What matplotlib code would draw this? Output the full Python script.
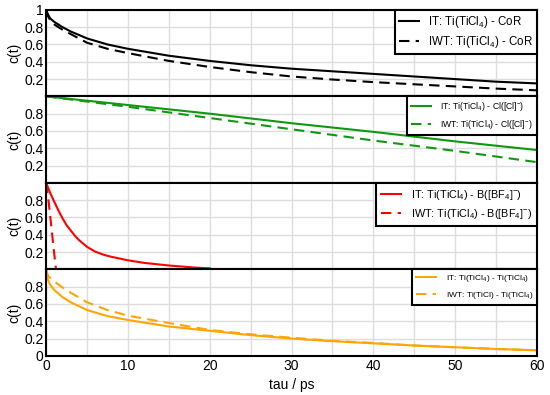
import matplotlib
matplotlib.use("Agg")
import matplotlib.pyplot as plt
from matplotlib.ticker import MultipleLocator

plt.rcParams["font.family"] = ["Liberation Sans", "DejaVu Sans"]
plt.rcParams["mathtext.default"] = "regular"

# time axes (ps)
t_long = [0, 0.2, 0.5, 1, 2, 3, 5, 7.5, 10, 15, 20, 25, 30, 35, 40, 45, 50, 55, 60]
t_lin = [0, 10, 20, 30, 40, 50, 60]
t_red = [0, 0.25, 0.5, 0.75, 1, 1.5, 2, 2.5, 3, 3.5, 4, 5, 6, 7, 8, 10, 12, 15, 18, 20]
t_red_iwt = [0, 0.3, 0.6, 0.9, 1.2]

# Ti(TiCl4) - CoR
cor_it = [1, 0.95, 0.9, 0.86, 0.8, 0.75, 0.67, 0.6, 0.55, 0.47, 0.41, 0.36, 0.32, 0.29, 0.26, 0.23, 0.2, 0.17, 0.15]
cor_iwt = [1, 0.93, 0.88, 0.83, 0.77, 0.72, 0.62, 0.55, 0.5, 0.41, 0.34, 0.28, 0.23, 0.195, 0.165, 0.14, 0.115, 0.09, 0.07]
# Ti(TiCl4) - Cl([Cl]-)
cl_it = [1, 0.9, 0.8, 0.69, 0.59, 0.48, 0.38]
cl_iwt = [1, 0.88, 0.75, 0.62, 0.49, 0.37, 0.24]
# Ti(TiCl4) - B([BF4]-)
bf4_it = [1, 0.94, 0.88, 0.83, 0.78, 0.68, 0.59, 0.51, 0.45, 0.39, 0.34, 0.26, 0.205, 0.17, 0.145, 0.105, 0.075, 0.045, 0.022, 0.012]
bf4_iwt = [1, 0.78, 0.52, 0.25, 0.0]
# Ti(TiCl4) - Ti(TiCl4)
ti_it = [1, 0.88, 0.82, 0.76, 0.68, 0.62, 0.53, 0.46, 0.415, 0.34, 0.29, 0.24, 0.2, 0.17, 0.145, 0.12, 0.1, 0.08, 0.065]
ti_iwt = [1, 0.93, 0.9, 0.86, 0.79, 0.73, 0.62, 0.53, 0.465, 0.38, 0.3, 0.25, 0.21, 0.175, 0.15, 0.12, 0.1, 0.08, 0.065]

colors = ["black", "#109910", "red", "orange"]
labels_it = [r"IT: Ti(TiCl$_4$) - CoR",
             r"IT: Ti(TiCl$_4$) - Cl([Cl]$^{-}$)",
             r"IT: Ti(TiCl$_4$) - B([BF$_4$]$^{-}$)",
             r"IT: Ti(TiCl$_4$) - Ti(TiCl$_4$)"]
labels_iwt = [r"IWT: Ti(TiCl$_4$) - CoR",
              r"IWT: Ti(TiCl$_4$) - Cl([Cl]$^{-}$)",
              r"IWT: Ti(TiCl$_4$) - B([BF$_4$]$^{-}$)",
              r"IWT: Ti(TiCl) - Ti(TiCl$_4$)"]
leg_fs = [8.3, 6.2, 7.8, 6]
leg_hl = [1.75, 2.3, 1.85, 2.4]
leg_tp = [0.75, 1.1, 0.9, 1.2]
leg_ls = [0.35, 0.55, 0.5, 0.7]
leg_bp = [0.35, 0.45, 0.45, 0.45]

series = [(t_long, cor_it, t_long, cor_iwt),
          (t_lin, cl_it, t_lin, cl_iwt),
          (t_red, bf4_it, t_red_iwt, bf4_iwt),
          (t_long, ti_it, t_long, ti_iwt)]

fig, axes = plt.subplots(4, 1, figsize=(5.5, 3.95), dpi=100, sharex=True)
fig.subplots_adjust(left=0.084, right=0.976, top=0.975, bottom=0.099, hspace=0)

for i, (x1, y1, x2, y2) in enumerate(series):
    ax = axes[i]
    ax.plot(x1, y1, color=colors[i], lw=1.5, label=labels_it[i])
    ax.plot(x2, y2, color=colors[i], lw=1.5, ls=(0, (5, 3)), label=labels_iwt[i])
    ax.set_xlim(0, 60)
    ax.set_ylim(0, 1)
    ax.xaxis.set_major_locator(MultipleLocator(10))
    ax.xaxis.set_minor_locator(MultipleLocator(5))
    ax.grid(True, which="both", color="#dddddd", lw=1)
    ax.set_axisbelow(True)
    for s in ax.spines.values():
        s.set_linewidth(1.5)
    ax.tick_params(axis="both", which="both", length=0, labelsize=10, pad=2)
    ax.set_ylabel("c(t)", fontsize=10, labelpad=2)
    if i == 0:
        ax.set_yticks([0.2, 0.4, 0.6, 0.8, 1.0])
        ax.set_yticklabels(["0.2", "0.4", "0.6", "0.8", "1"])
    elif i == 3:
        ax.set_yticks([0, 0.2, 0.4, 0.6, 0.8])
        ax.set_yticklabels(["0", "0.2", "0.4", "0.6", "0.8"])
    else:
        ax.set_yticks([0.2, 0.4, 0.6, 0.8])
        ax.set_yticklabels(["0.2", "0.4", "0.6", "0.8"])
    leg = ax.legend(loc="upper right", fontsize=leg_fs[i], frameon=True, fancybox=False,
                    borderaxespad=0, handlelength=leg_hl[i], handletextpad=leg_tp[i],
                    labelspacing=leg_ls[i], borderpad=leg_bp[i], framealpha=1)
    leg.get_frame().set_edgecolor("black")
    leg.get_frame().set_linewidth(1.5)

axes[3].set_xticks([0, 10, 20, 30, 40, 50, 60])
axes[3].set_xlabel("tau / ps", fontsize=10, labelpad=4)

fig.savefig("out.png", dpi=100)
